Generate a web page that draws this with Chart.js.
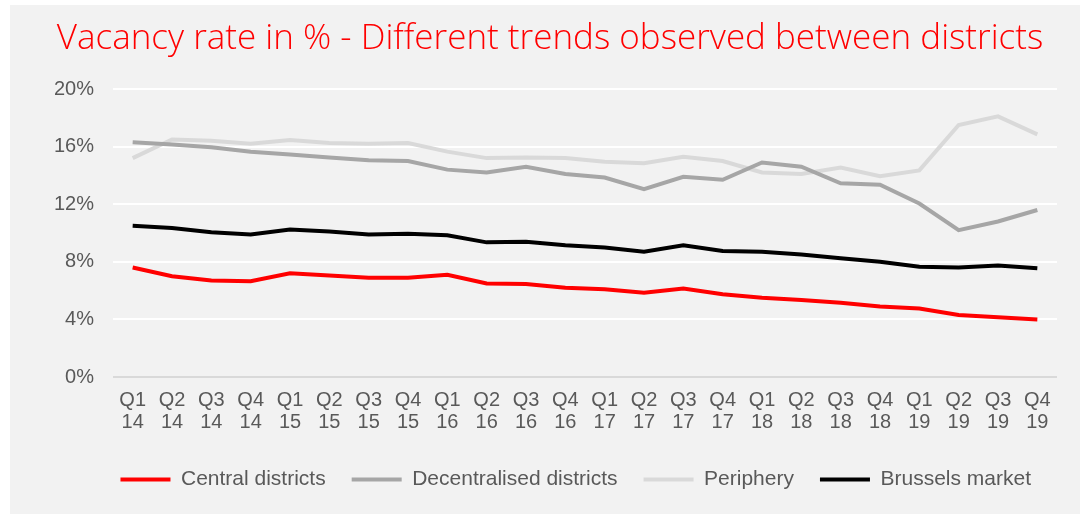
<!DOCTYPE html>
<html>
<head>
<meta charset="utf-8">
<script src="https://cdn.jsdelivr.net/npm/chart.js@4"></script>
<style>
  body { margin: 0; background: #ffffff; }
  #panel { position: absolute; left: 10px; top: 5px; width: 1070px; height: 509px; background: #f2f2f2; }
</style>
</head>
<body>
<div id="panel"><canvas id="vacancyChart" width="1070" height="509"></canvas></div>
<script>
// quarters Q1 14 .. Q4 19
const quarters = ['Q1','Q2','Q3','Q4'];
const years = ['14','15','16','17','18','19'];
const labels = [];
years.forEach(y => quarters.forEach(q => labels.push([q, y])));

// vacancy rate in %
const central = [7.6, 7.0, 6.7, 6.65, 7.2, 7.05, 6.9, 6.9, 7.1, 6.5, 6.45, 6.2,
                 6.1, 5.85, 6.15, 5.75, 5.5, 5.35, 5.15, 4.9, 4.75, 4.3, 4.15, 4.0];
const decentralised = [16.3, 16.15, 15.95, 15.65, 15.45, 15.25, 15.05, 15.0, 14.4, 14.2, 14.6, 14.1,
                       13.85, 13.05, 13.9, 13.7, 14.9, 14.6, 13.45, 13.35, 12.05, 10.2, 10.8, 11.6];
const periphery = [15.2, 16.5, 16.4, 16.2, 16.45, 16.25, 16.2, 16.25, 15.65, 15.2, 15.25, 15.2,
                   14.95, 14.85, 15.3, 15.0, 14.2, 14.1, 14.55, 13.95, 14.35, 17.5, 18.1, 16.85];
const brussels = [10.5, 10.35, 10.05, 9.9, 10.25, 10.1, 9.9, 9.95, 9.85, 9.35, 9.4, 9.15,
                  9.0, 8.7, 9.15, 8.75, 8.7, 8.5, 8.25, 8.0, 7.65, 7.6, 7.75, 7.55];

const tickFont = { family: '"Liberation Sans", Arial, sans-serif', size: 20, lineHeight: 1.1 };
const textGray = '#595959';

function line(label, data, color) {
    return {
        label: label,
        data: data,
        borderColor: color,
        backgroundColor: color,
        borderWidth: 4,
        pointRadius: 0,
        tension: 0,
        fill: false
    };
}

const ctx = document.getElementById('vacancyChart').getContext('2d');
const vacancyChart = new Chart(ctx, {
    type: 'line',
    data: {
        labels: labels,
        datasets: [
            line('Central districts', central, '#ff0000'),
            line('Decentralised districts', decentralised, '#a6a6a6'),
            line('Periphery', periphery, '#d9d9d9'),
            line('Brussels market', brussels, '#000000')
        ]
    },
    options: {
        responsive: false,
        animation: false,
        layout: { padding: { left: 33, right: 23, top: 0, bottom: 14 } },
        plugins: {
            title: {
                display: true,
                text: 'Vacancy rate in % - Different trends observed between districts',
                color: '#ff0000',
                font: { family: '"Open Sans", sans-serif', size: 35, weight: 300, lineHeight: 1.2 },
                padding: { top: 13, bottom: 29 }
            },
            legend: {
                position: 'bottom',
                align: 'end',
                labels: {
                    usePointStyle: true,
                    pointStyle: 'line',
                    pointStyleWidth: 50,
                    color: textGray,
                    padding: 26,
                    font: { family: '"Liberation Sans", Arial, sans-serif', size: 21 }
                }
            },
            tooltip: { enabled: false }
        },
        scales: {
            x: {
                offset: true,
                grid: { display: false },
                border: { display: false },
                ticks: { color: textGray, font: tickFont, padding: 4, maxRotation: 0, autoSkip: false },
                afterFit: axis => { axis.height = 66; }
            },
            y: {
                min: 0,
                max: 20,
                border: { display: false },
                grid: {
                    drawTicks: false,
                    lineWidth: 2,
                    color: c => c.tick.value === 0 ? '#d9d9d9' : '#ffffff'
                },
                ticks: {
                    stepSize: 4,
                    padding: 19,
                    color: textGray,
                    font: tickFont,
                    callback: v => v + '%'
                },
                afterFit: axis => { axis.width = 70; }
            }
        }
    }
});
</script>
</body>
</html>
